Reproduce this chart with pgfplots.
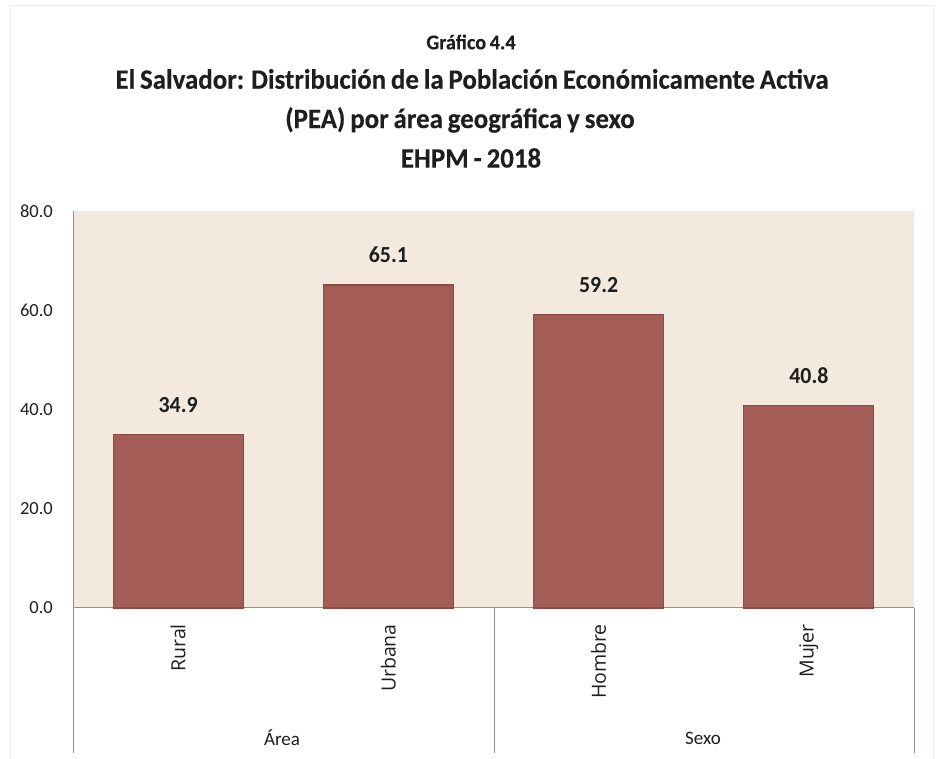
\documentclass[border=0pt]{standalone}
\usepackage{fontspec}
\setmainfont{Carlito}
\newfontfamily\osans{Open Sans}
\newfontfamily\titlefont[FakeStretch=0.96,WordSpace=0.8,FakeBold=0.3]{Carlito Bold}
\newfontfamily\lblfont[FakeStretch=0.95]{Carlito Bold}
\usepackage{pgfplots}
\pgfplotsset{compat=1.18}
\definecolor{bgbeige}{RGB}{243,233,222}
\definecolor{barred}{RGB}{164,92,86}
\definecolor{baredge}{RGB}{140,74,69}
\definecolor{axgray}{RGB}{140,145,150}
\definecolor{txt}{RGB}{30,30,30}
\begin{document}
\begin{tikzpicture}[x=1pt,y=1pt]
\useasboundingbox (0,0) rectangle (939,759);
\draw[color=black!8, line width=1pt] (10,0) -- (10,753) -- (933,753) -- (933,0);
% titles
\node[font=\titlefont\fontsize{21}{24}\selectfont, text=txt] at (471,717) {Gráfico 4.4};
\node[font=\titlefont\fontsize{28}{32}\selectfont, text=txt] at (472,680) {El Salvador: Distribución de la Población Económicamente Activa};
\node[font=\titlefont\fontsize{28}{32}\selectfont, text=txt] at (460,639) {(PEA) por área geográfica y sexo};
\node[font=\titlefont\fontsize{28}{32}\selectfont, text=txt] at (471,601) {EHPM - 2018};
\begin{axis}[
  at={(73pt,151pt)}, anchor=south west,
  scale only axis, width=841pt, height=397pt,
  xmin=-0.5, xmax=3.5, ymin=0, ymax=80,
  axis background/.style={fill=bgbeige},
  axis x line=bottom, axis y line=left,
  axis line style={-, draw=axgray, line width=1pt},
  ybar, bar width=130pt,
  xtick=data,
  xticklabels={Rural,Urbana,Hombre,Mujer},
  xticklabel style={rotate=90, anchor=east, font=\osans\fontsize{19.5}{22}\selectfont, text=txt, inner sep=0pt, xshift=-16pt},
  ytick={0,20,40,60,80},
  yticklabel style={font=\fontsize{18.5}{22}\selectfont, text=txt, inner sep=0pt, xshift=-20pt},
  /pgf/number format/assume math mode=true,
  yticklabel={\pgfmathprintnumber[fixed,fixed zerofill,precision=1]{\tick}},
  major tick length=0pt,
  nodes near coords={\pgfmathprintnumber[fixed,fixed zerofill,precision=1,assume math mode=true]{\pgfplotspointmeta}},
  every node near coord/.append style={font=\lblfont\fontsize{23}{26}\selectfont, text=txt, anchor=base, yshift=22pt},
  clip=false,
]
\addplot[fill=barred, draw=baredge, line width=1.2pt] coordinates {(0,34.9) (1,65.1) (2,59.2) (3,40.8)};
\end{axis}
\draw[axgray, line width=1pt] (73,151) -- (73,6);
\draw[axgray, line width=1pt] (494,151) -- (494,6);
\draw[axgray, line width=1pt] (914,151) -- (914,6);
\node[font=\fontsize{19}{22}\selectfont, text=txt] at (282,21) {Área};
\node[font=\fontsize{19}{22}\selectfont, text=txt] at (703,21) {Sexo};
\end{tikzpicture}
\end{document}
